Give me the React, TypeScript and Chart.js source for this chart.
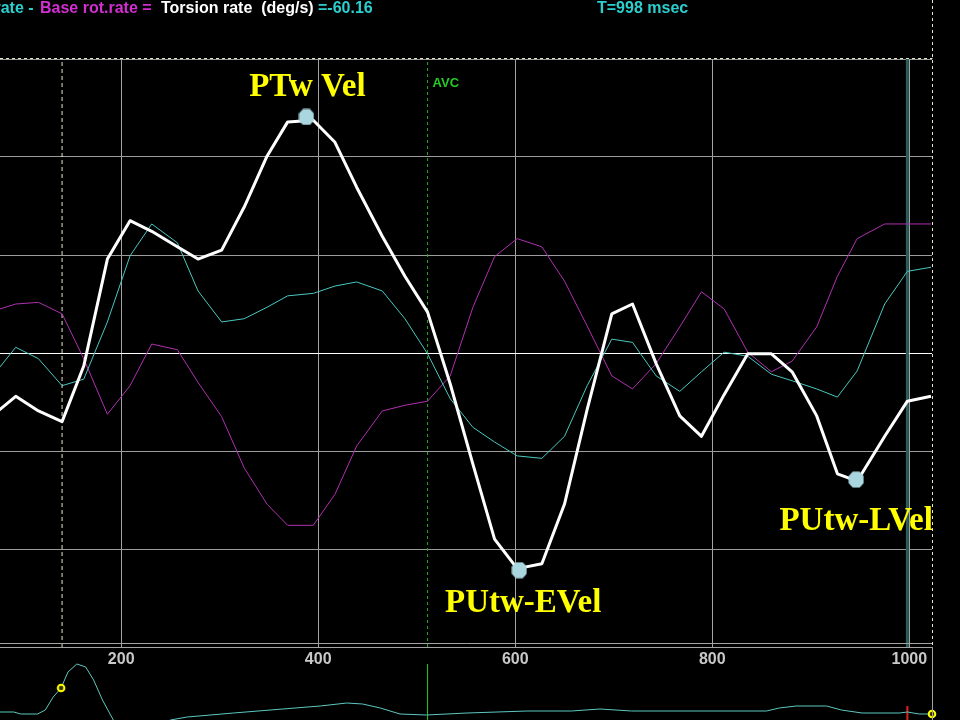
import React, { useEffect, useRef } from "react";
import { Chart, registerables } from "chart.js";
Chart.register(...registerables);

// ---- data ----
const timesMs = [69, 93, 116, 140, 162, 186, 209, 231, 257, 278, 302, 325, 348, 369, 395, 417, 439, 465, 488, 511, 534, 557, 579, 602, 627, 650, 673, 698, 719, 743, 767, 789, 812, 836, 860, 881, 906, 927, 947, 975, 998, 1022];
const torsionRate = [-77, -53, -71, -84, -16, 115, 162, 149, 130, 115, 126, 179, 241, 283, 285, 258, 203, 143, 94, 50, -38, -136, -228, -264, -258, -185, -69, 48, 60, -13, -77, -102, -51, -1, -1, -23, -77, -148, -157, -102, -59, -53];
const apexRate = [-29, 7, -7, -40, -32, 38, 119, 158, 135, 76, 38, 42, 56, 70, 73, 82, 87, 76, 42, -1, -56, -91, -109, -126, -129, -102, -40, 17, 13, -28, -47, -23, 1, -4, -26, -34, -44, -54, -22, 60, 100, 105];
const baseRate = [51, 60, 62, 48, -7, -75, -40, 11, 4, -36, -78, -141, -185, -211, -211, -173, -114, -71, -64, -59, -28, 56, 118, 140, 130, 88, 33, -28, -44, -13, 32, 75, 54, 1, -23, -10, 32, 94, 140, 158, 158, 158];

const peakLabels = ["PTw Vel", "PUtw-EVel", "PUtw-LVel"];
const peakTimes = [388, 604, 946];
const peakValues = [289, -266, -155];

const startMs = 140;
const avcMs = 511;
const cursorMs = 998;

const ecgTimes = [77, 91, 98, 115, 123, 131, 139, 146, 155, 164, 172, 181, 192, 204, 219, 235, 250, 267, 314, 364, 402, 429, 445, 463, 483, 510, 551, 612, 657, 686, 718, 855, 868, 885, 916, 931, 952, 990, 998, 1010, 1023];
const ecgValues = [0.02, 0.02, -0.02, -0.02, 0.06, 0.32, 0.5, 0.82, 0.98, 0.92, 0.66, 0.26, -0.14, -0.4, -0.5, -0.3, -0.14, -0.08, 0, 0.08, 0.14, 0.2, 0.18, 0.1, -0.02, -0.04, 0, 0.04, 0.04, 0.08, 0.04, 0.04, 0.1, 0.14, 0.14, 0.06, 0, 0, 0.02, -0.02, -0.02];
const ecgMarkTimes = [139, 1023];
const ecgMarkValues = [0.5, -0.02];

const xTicks = [200, 400, 600, 800, 1000];
const X_MIN = 77;
const X_MAX = 1023;
const Y_MIN = -360;
const Y_MAX = 360;
const Y_STEP = 120;
const ECG_MIN = -0.14;
const ECG_MAX = 1.32;

// ---- style ----
const labelDx = [1, 4, 0];
const labelDy = [-21, 42, 50];

function pts(xs: number[], ys: number[]) {
  return xs.map((x, i) => ({ x, y: ys[i] }));
}

function makeHex(): HTMLCanvasElement {
  const c = document.createElement("canvas");
  c.width = 16;
  c.height = 17;
  const g = c.getContext("2d")!;
  g.fillStyle = "#a9d6df";
  g.beginPath();
  g.moveTo(4.5, 0.5);
  g.lineTo(11.5, 0.5);
  g.lineTo(15.5, 5);
  g.lineTo(15.5, 12);
  g.lineTo(11.5, 16.5);
  g.lineTo(4.5, 16.5);
  g.lineTo(0.5, 12);
  g.lineTo(0.5, 5);
  g.closePath();
  g.fill();
  return c;
}

function makeRing(): HTMLCanvasElement {
  const c = document.createElement("canvas");
  c.width = 10;
  c.height = 10;
  const g = c.getContext("2d")!;
  g.fillStyle = "#3a3a00";
  g.strokeStyle = "#ffff00";
  g.lineWidth = 2;
  g.beginPath();
  g.arc(5, 5, 3.3, 0, Math.PI * 2);
  g.fill();
  g.stroke();
  return c;
}

const overlayPlugin = {
  id: "overlay",
  afterDatasetsDraw(chart: any) {
    const { ctx, chartArea, scales } = chart;
    const xs = scales.x;
    const ys = scales.y;
    const right = Math.round(chartArea.right) + 0.5;
    ctx.save();
    // second bottom frame line
    ctx.strokeStyle = "#a4a4a4";
    ctx.lineWidth = 1;
    ctx.beginPath();
    ctx.moveTo(0, Math.round(chartArea.bottom) - 3.5);
    ctx.lineTo(right, Math.round(chartArea.bottom) - 3.5);
    ctx.stroke();
    // dashed frame
    ctx.strokeStyle = "#e6e6c8";
    ctx.setLineDash([3, 3]);
    ctx.beginPath();
    ctx.moveTo(0, Math.round(chartArea.top) - 0.5);
    ctx.lineTo(right, Math.round(chartArea.top) - 0.5);
    ctx.moveTo(right, 0);
    ctx.lineTo(right, chartArea.bottom);
    ctx.stroke();
    ctx.setLineDash([]);

    ctx.beginPath();
    ctx.rect(0, 0, chartArea.right, chart.height);
    ctx.clip();
    ctx.font = 'bold 33px "Liberation Serif", "Times New Roman", serif';
    ctx.fillStyle = "#ffff00";
    ctx.textAlign = "center";
    ctx.textBaseline = "alphabetic";
    peakLabels.forEach((t, i) => {
      const px = xs.getPixelForValue(peakTimes[i]);
      const py = ys.getPixelForValue(peakValues[i]);
      ctx.fillText(t, px + labelDx[i], py + labelDy[i]);
    });
    ctx.font = 'bold 13px "Liberation Sans", Arial, sans-serif';
    ctx.fillStyle = "#22cc22";
    ctx.textAlign = "left";
    ctx.fillText("AVC", xs.getPixelForValue(avcMs) + 5, chartArea.top + 28);
    ctx.restore();
  },
};

const ecgFramePlugin = {
  id: "ecgFrame",
  afterDatasetsDraw(chart: any) {
    const { ctx, chartArea } = chart;
    const right = Math.round(chartArea.right) + 0.5;
    ctx.save();
    ctx.strokeStyle = "#a0a0a0";
    ctx.lineWidth = 1;
    ctx.beginPath();
    ctx.moveTo(right, 0);
    ctx.lineTo(right, chart.height);
    ctx.stroke();
    ctx.restore();
  },
};

export default function App() {
  const mainRef = useRef<HTMLCanvasElement>(null);
  const ecgRef = useRef<HTMLCanvasElement>(null);

  useEffect(() => {
    const hex = makeHex();
    const ring = makeRing();
    const main = new Chart(mainRef.current!, {
      type: "line",
      data: {
        datasets: [
          {
            label: "peaks",
            data: pts(peakTimes, peakValues),
            showLine: false,
            pointStyle: hex as any,
            pointRadius: 1,
            clip: false as any,
          },
          {
            label: "Torsion rate",
            data: pts(timesMs, torsionRate),
            borderColor: "#ffffff",
            borderWidth: 3,
            pointRadius: 0,
            borderJoinStyle: "round",
          },
          {
            label: "Apex rot.rate",
            data: pts(timesMs, apexRate),
            borderColor: "#48c8c0",
            borderWidth: 1,
            pointRadius: 0,
          },
          {
            label: "Base rot.rate",
            data: pts(timesMs, baseRate),
            borderColor: "#b030b0",
            borderWidth: 1,
            pointRadius: 0,
          },
          {
            label: "cursor",
            data: [{ x: cursorMs, y: Y_MIN }, { x: cursorMs, y: Y_MAX }],
            borderColor: "#2c5c5c",
            borderWidth: 3,
            pointRadius: 0,
          },
          {
            label: "AVC",
            data: [{ x: avcMs, y: Y_MIN }, { x: avcMs, y: Y_MAX }],
            borderColor: "#22b022",
            borderWidth: 1,
            borderDash: [3, 3],
            pointRadius: 0,
          },
          {
            label: "start",
            data: [{ x: startMs, y: Y_MIN }, { x: startMs, y: Y_MAX }],
            borderColor: "#e6e6c8",
            borderWidth: 1,
            borderDash: [4, 3],
            pointRadius: 0,
          },
        ],
      },
      options: {
        animation: false,
        responsive: false,
        devicePixelRatio: 1,
        events: [],
        layout: { autoPadding: false, padding: { left: 0, right: 28, top: 59, bottom: 0 } },
        plugins: { legend: { display: false }, tooltip: { enabled: false } },
        scales: {
          x: {
            type: "linear",
            min: X_MIN,
            max: X_MAX,
            afterFit: (s: any) => {
              s.height = 73;
              s.paddingLeft = 0;
              s.paddingRight = 0;
            },
            afterBuildTicks: (s: any) => {
              s.ticks = xTicks.map((v) => ({ value: v }));
            },
            ticks: {
              callback: (v: any) => String(v),
              color: "#c8c8c8",
              padding: 3,
              font: { family: '"Liberation Sans", Arial, sans-serif', size: 16, weight: "bold" },
            },
            grid: { color: "#a4a4a4", drawTicks: false, lineWidth: 1 },
            border: { color: "#a4a4a4", width: 1 },
          },
          y: {
            type: "linear",
            min: Y_MIN,
            max: Y_MAX,
            afterFit: (s: any) => {
              s.width = 0;
              s.paddingTop = 0;
              s.paddingBottom = 0;
            },
            ticks: { display: false, stepSize: Y_STEP },
            grid: {
              drawTicks: false,
              color: (c: any) => (c.tick && c.tick.value === 0 ? "#ffffff" : "#9c9c9c"),
            },
            border: { display: false },
          },
        },
      } as any,
      plugins: [overlayPlugin],
    });

    const ecg = new Chart(ecgRef.current!, {
      type: "line",
      data: {
        datasets: [
          {
            label: "marks",
            data: pts(ecgMarkTimes, ecgMarkValues),
            showLine: false,
            pointStyle: ring as any,
            pointRadius: 1,
            clip: false as any,
          },
          {
            label: "ECG",
            data: pts(ecgTimes, ecgValues),
            borderColor: "#5cc8c0",
            borderWidth: 1,
            pointRadius: 0,
          },
          {
            label: "R",
            data: [{ x: cursorMs, y: ECG_MIN }, { x: cursorMs, y: 0.14 }],
            borderColor: "#e02020",
            borderWidth: 2,
            pointRadius: 0,
          },
          {
            label: "AVC",
            data: [{ x: avcMs, y: ECG_MIN }, { x: avcMs, y: 0.98 }],
            borderColor: "#22cc22",
            borderWidth: 1,
            pointRadius: 0,
          },
        ],
      },
      options: {
        animation: false,
        responsive: false,
        devicePixelRatio: 1,
        events: [],
        layout: { autoPadding: false, padding: { left: 0, right: 28, top: 0, bottom: 0 } },
        plugins: { legend: { display: false }, tooltip: { enabled: false } },
        scales: {
          x: { type: "linear", display: false, min: X_MIN, max: X_MAX },
          y: { type: "linear", display: false, min: ECG_MIN, max: ECG_MAX },
        },
      } as any,
      plugins: [ecgFramePlugin],
    });

    return () => {
      main.destroy();
      ecg.destroy();
    };
  }, []);

  const hdr: React.CSSProperties = {
    position: "absolute",
    top: 0,
    font: 'bold 16px "Liberation Sans", Arial, sans-serif',
    lineHeight: "16px",
    whiteSpace: "pre",
  };

  return (
    <div
      style={{
        position: "fixed",
        left: 0,
        top: 0,
        width: 960,
        height: 720,
        background: "#000",
        overflow: "hidden",
      }}
    >
      <canvas ref={mainRef} width={960} height={720} style={{ position: "absolute", left: 0, top: 0 }} />
      <canvas ref={ecgRef} width={960} height={73} style={{ position: "absolute", left: 0, top: 647 }} />
      <span style={{ ...hdr, right: 922, color: "#2ccfcf" }}>Apex rot.rate - </span>
      <span style={{ ...hdr, left: 40, color: "#d22ed2" }}>Base rot.rate = </span>
      <span style={{ ...hdr, left: 161, color: "#ffffff" }}>Torsion rate  (deg/s)</span>
      <span style={{ ...hdr, left: 318, color: "#2ccfcf" }}>=-60.16</span>
      <span style={{ ...hdr, left: 597, color: "#2ccfcf" }}>T=998 msec</span>
    </div>
  );
}
